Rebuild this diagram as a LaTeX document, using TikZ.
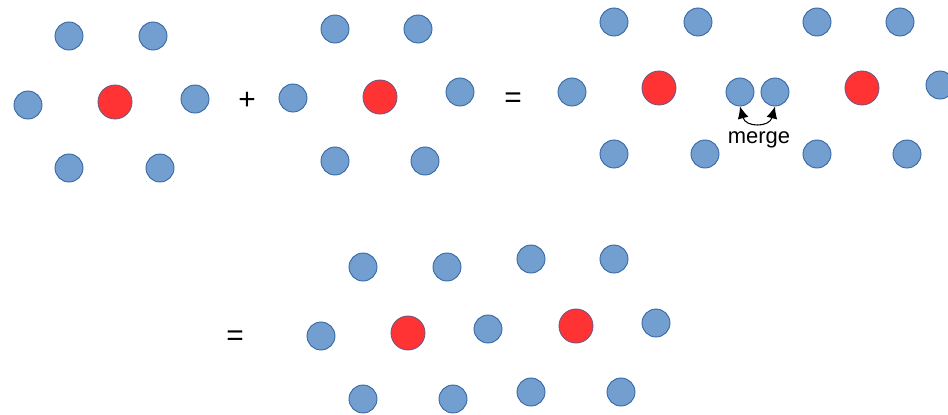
\documentclass[tikz,border=0pt]{standalone}
\usepackage{fontspec}
\setmainfont{Liberation Sans}
\usetikzlibrary{arrows.meta}
\definecolor{siteblue}{HTML}{729FCF}
\definecolor{siteedge}{HTML}{3465A4}
\definecolor{corered}{HTML}{FF3333}
\begin{document}
\begin{tikzpicture}[x=0.02cm, y=-0.02cm, >={Latex[length=2.4mm, width=2.2mm]},
    site/.style={circle, inner sep=0pt, minimum size=0.56cm, fill=siteblue, draw=siteedge, line width=0.5pt},
    core/.style={circle, inner sep=0pt, minimum size=0.68cm, fill=corered, draw=siteedge!70!corered, line width=0.5pt},
    sign/.style={font=\fontsize{17}{20}\selectfont}]
    \useasboundingbox (0,0) rectangle (948,414);
    \node[site] (a1) at (69,36) {};
    \node[site] (a2) at (153,36) {};
    \node[site] (a3) at (28,105) {};
    \node[core] (a0) at (115,102) {};
    \node[site] (a4) at (195,99) {};
    \node[site] (a5) at (69,168) {};
    \node[site] (a6) at (160,168) {};
    \node[sign] (plus) at (247,101) {+};
    \node[site] (b1) at (335,29) {};
    \node[site] (b2) at (418,29) {};
    \node[site] (b3) at (293,98) {};
    \node[core] (b0) at (380,97) {};
    \node[site] (b4) at (460,92) {};
    \node[site] (b5) at (335,161) {};
    \node[site] (b6) at (425,161) {};
    \node[sign] (eq1) at (513,100) {=};
    \node[site] (c1) at (614,22) {};
    \node[site] (c2) at (698,22) {};
    \node[site] (c3) at (572,92) {};
    \node[core] (c0) at (659,88) {};
    \node[site] (m1) at (740,92) {};
    \node[site] (m2) at (775,92) {};
    \node[site] (c4) at (817,22) {};
    \node[site] (c5) at (900,22) {};
    \node[core] (c9) at (862,88) {};
    \node[site] (c6) at (940,85) {};
    \node[site] (c7) at (614,154) {};
    \node[site] (c8) at (705,154) {};
    \node[site] (c10) at (817,154) {};
    \node[site] (c11) at (907,154) {};
    \draw[<->, line width=0.6pt] (m1.south) to[out=-75, in=-105, looseness=1.6] (m2.south);
    \node[font=\fontsize{12.5}{15}\selectfont] (merge) at (759,140) {merge};
    \node[sign] (eq2) at (235,338) {=};
    \node[site] (d1) at (363,267) {};
    \node[site] (d2) at (447,267) {};
    \node[site] (d3) at (531,259) {};
    \node[site] (d4) at (614,259) {};
    \node[site] (d5) at (321,336) {};
    \node[core] (d0) at (408,333) {};
    \node[site] (d6) at (488,329) {};
    \node[core] (d9) at (576,326) {};
    \node[site] (d7) at (656,323) {};
    \node[site] (d8) at (363,399) {};
    \node[site] (d10) at (453,399) {};
    \node[site] (d11) at (531,392) {};
    \node[site] (d12) at (621,392) {};
\end{tikzpicture}
\end{document}
